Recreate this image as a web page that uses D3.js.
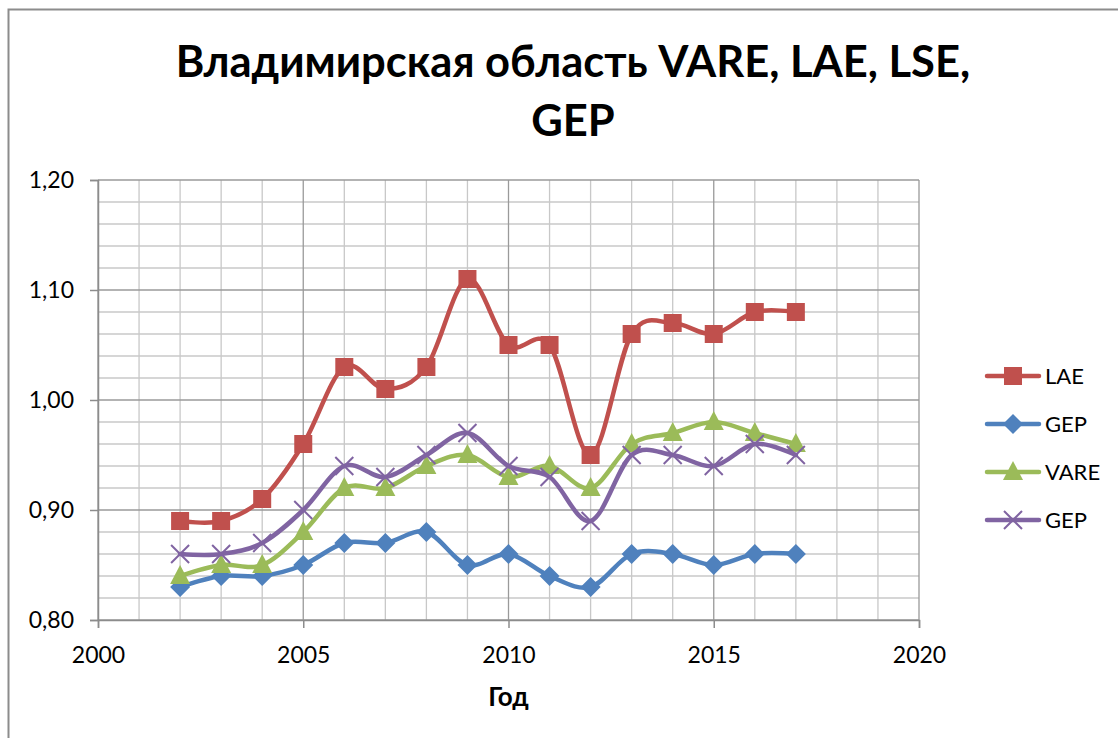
<!DOCTYPE html>
<html>
<head>
<meta charset="utf-8">
<script src="https://cdn.jsdelivr.net/npm/d3@7"></script>
<style>
  body { margin: 0; background: #fff; }
  svg text { font-family: Lato, "Open Sans", sans-serif; fill: #000; }
</style>
</head>
<body>
<div id="chart"></div>
<script>
// data
var years = [2002, 2003, 2004, 2005, 2006, 2007, 2008, 2009, 2010, 2011, 2012, 2013, 2014, 2015, 2016, 2017]
var lae   = [0.89, 0.89, 0.91, 0.96, 1.03, 1.01, 1.03, 1.11, 1.05, 1.05, 0.95, 1.06, 1.07, 1.06, 1.08, 1.08]
var gepBlue = [0.83, 0.84, 0.84, 0.85, 0.87, 0.87, 0.88, 0.85, 0.86, 0.84, 0.83, 0.86, 0.86, 0.85, 0.86, 0.86]
var vare  = [0.84, 0.85, 0.85, 0.88, 0.92, 0.92, 0.94, 0.95, 0.93, 0.94, 0.92, 0.96, 0.97, 0.98, 0.97, 0.96]
var gepPurple = [0.86, 0.86, 0.87, 0.90, 0.94, 0.93, 0.95, 0.97, 0.94, 0.93, 0.89, 0.95, 0.95, 0.94, 0.96, 0.95]
var seriesNames = ["LAE", "GEP", "VARE", "GEP"]
var xTicks = [2000, 2005, 2010, 2015, 2020]
var yTicks = [0.80, 0.90, 1.00, 1.10, 1.20]

var W = 1118, H = 738
var svg = d3.select("#chart").append("svg").attr("width", W).attr("height", H)

// outer chart frame (right/bottom edges fall outside the picture)
svg.append("rect").attr("x", 8.5).attr("y", 9.5).attr("width", 1200).attr("height", 800)
  .attr("fill", "none").attr("stroke", "#8c8c8c").attr("stroke-width", 2)

var x = d3.scaleLinear().domain([2000, 2020]).range([98, 919])
var y = d3.scaleLinear().domain([0.80, 1.20]).range([620, 180])

var grid = svg.append("g")
// minor grid
d3.range(2001, 2020).forEach(function(v) {
  if (v % 5 == 0) return
  grid.append("line").attr("x1", x(v)).attr("x2", x(v)).attr("y1", y(0.8)).attr("y2", y(1.2))
    .attr("stroke", "#c8c8c8").attr("stroke-width", 1.3)
})
d3.range(0, 21).forEach(function(i) {
  if (i % 5 == 0) return
  var v = 0.8 + i * 0.02
  grid.append("line").attr("x1", x(2000)).attr("x2", x(2020)).attr("y1", y(v)).attr("y2", y(v))
    .attr("stroke", "#c8c8c8").attr("stroke-width", 1.3)
})
// major grid
xTicks.forEach(function(v) {
  grid.append("line").attr("x1", x(v)).attr("x2", x(v)).attr("y1", y(0.8)).attr("y2", y(1.2) - 0)
    .attr("stroke", "#9a9a9a").attr("stroke-width", 1.3)
})
yTicks.forEach(function(v) {
  grid.append("line").attr("x1", x(2000)).attr("x2", x(2020)).attr("y1", y(v)).attr("y2", y(v))
    .attr("stroke", "#9a9a9a").attr("stroke-width", 1.3)
})

// axes
var yAxis = svg.append("g").attr("transform", "translate(" + x(2000) + ",0)")
  .call(d3.axisLeft(y).tickValues(yTicks).tickSize(8).tickPadding(16)
    .tickFormat(function(d) { return d3.format(".2f")(d).replace(".", ",") }))
var xAxis = svg.append("g").attr("transform", "translate(0," + y(0.8) + ")")
  .call(d3.axisBottom(x).tickValues(xTicks).tickSize(8).tickPadding(19).tickFormat(d3.format("d")))
;[xAxis, yAxis].forEach(function(a) {
  a.select(".domain").attr("stroke", "#8c8c8c").attr("stroke-width", 1.5)
  a.selectAll(".tick line").attr("stroke", "#8c8c8c").attr("stroke-width", 1.5)
  a.selectAll(".tick text").style("font-size", "23px").style("font-family", "Lato, sans-serif").attr("fill", "#000")
})

// titles
var title = svg.append("text").attr("x", 573).attr("text-anchor", "middle")
  .style("font-size", "43.5px").style("font-weight", "bold")
title.append("tspan").attr("x", 573).attr("y", 77).text("Владимирская область VARE, LAE, LSE,")
title.append("tspan").attr("x", 573).attr("y", 136).text("GEP")

svg.append("text").attr("x", x(2010)).attr("y", 706).attr("text-anchor", "middle")
  .style("font-size", "26px").style("font-weight", "bold").text("Год")

// series
var allSeries = [
  { name: seriesNames[0], values: lae, color: "#c0504d", marker: "square" },
  { name: seriesNames[1], values: gepBlue, color: "#4f81bd", marker: "diamond" },
  { name: seriesNames[2], values: vare, color: "#9bbb59", marker: "triangle" },
  { name: seriesNames[3], values: gepPurple, color: "#8064a2", marker: "x" }
]

var line = d3.line().curve(d3.curveCatmullRom.alpha(0))
  .x(function(d) { return x(d[0]) }).y(function(d) { return y(d[1]) })

function drawMarker(g, type, cx, cy, color) {
  if (type == "square") {
    g.append("rect").attr("x", cx - 9).attr("y", cy - 9).attr("width", 18).attr("height", 18).attr("fill", color)
  } else if (type == "diamond") {
    g.append("path").attr("d", "M" + cx + "," + (cy - 10) + "L" + (cx + 10) + "," + cy + "L" + cx + "," + (cy + 10) + "L" + (cx - 10) + "," + cy + "Z").attr("fill", color)
  } else if (type == "triangle") {
    g.append("path").attr("d", "M" + cx + "," + (cy - 11) + "L" + (cx + 10) + "," + (cy + 8) + "L" + (cx - 10) + "," + (cy + 8) + "Z").attr("fill", color)
  } else {
    g.append("path").attr("d", "M" + (cx - 9) + "," + (cy - 9) + "L" + (cx + 9) + "," + (cy + 9) + "M" + (cx + 9) + "," + (cy - 9) + "L" + (cx - 9) + "," + (cy + 9))
      .attr("stroke", color).attr("stroke-width", 2).attr("fill", "none")
  }
}

allSeries.forEach(function(s) {
  var pts = years.map(function(yr, i) { return [yr, s.values[i]] })
  svg.append("path").attr("d", line(pts)).attr("fill", "none").attr("stroke", s.color)
    .attr("stroke-width", 4.5).attr("stroke-linejoin", "round").attr("stroke-linecap", "round")
  var mg = svg.append("g")
  pts.forEach(function(p) { drawMarker(mg, s.marker, x(p[0]), y(p[1]), s.color) })
})

// legend
var legend = svg.append("g")
allSeries.forEach(function(s, i) {
  var ly = 376 + i * 48
  legend.append("line").attr("x1", 987).attr("x2", 1039).attr("y1", ly).attr("y2", ly)
    .attr("stroke", s.color).attr("stroke-width", 4.5).attr("stroke-linecap", "round")
  drawMarker(legend, s.marker, 1013, ly, s.color)
  legend.append("text").attr("x", 1045).attr("y", ly + 8).style("font-size", "22px").text(s.name)
})
</script>
</body>
</html>
